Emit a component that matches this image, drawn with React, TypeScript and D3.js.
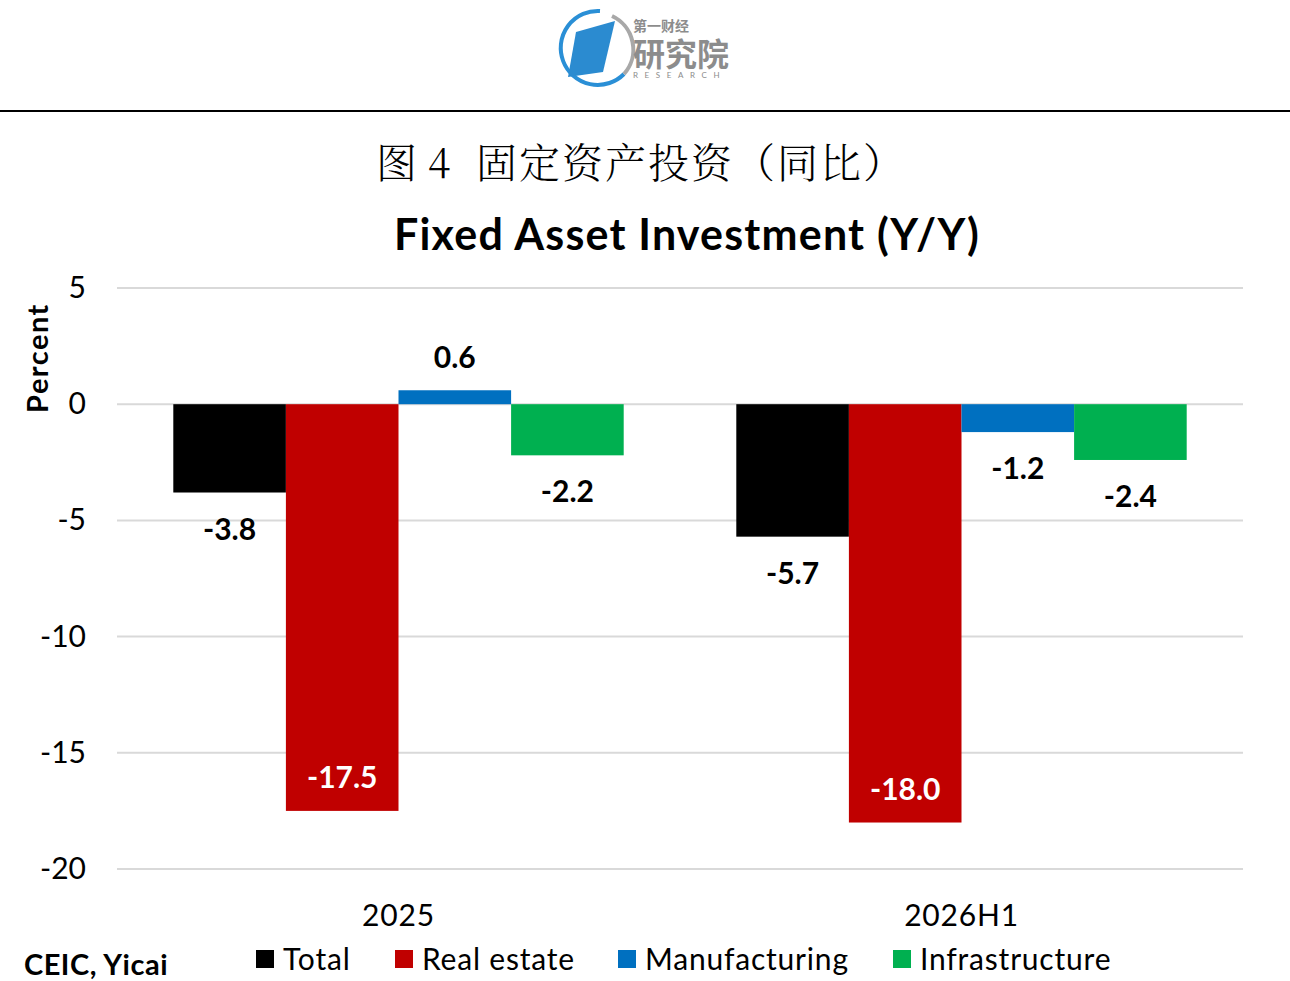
import * as d3 from "d3";

const categories = ["2025", "2026H1"];
const seriesNames = ["Total", "Real estate", "Manufacturing", "Infrastructure"];
const seriesColors = ["#000000", "#C00000", "#0070C0", "#00B050"];
const totalValues = [-3.8, -5.7];
const realEstateValues = [-17.5, -18.0];
const manufacturingValues = [0.6, -1.2];
const infrastructureValues = [-2.2, -2.4];
const yTicks = [5, 0, -5, -10, -15, -20];

const seriesValues = [totalValues, realEstateValues, manufacturingValues, infrastructureValues];
// real estate labels sit inside the bar end, in white
const insideLabel = [false, true, false, false];

const W = 1290;
const H = 981;
const FONT = "Lato, 'Open Sans', sans-serif";
const CJK_SERIF = "'Noto Serif CJK SC', 'Noto Sans CJK SC', serif";

export default function App() {
  const plot = { left: 117, right: 1243, top: 288, bottom: 869 };

  const y = d3.scaleLinear().domain([-20, 5]).range([plot.bottom, plot.top]);
  const x0 = d3.scaleBand().domain(categories).range([plot.left, plot.right]);
  const x1 = d3
    .scaleBand()
    .domain(seriesNames)
    .range([0, x0.bandwidth()])
    .paddingOuter(0.5)
    .paddingInner(0);

  const legendX = [256, 395, 618, 893];

  return (
    <svg
      width={W}
      height={H}
      style={{ position: "absolute", left: 0, top: 0, display: "block", background: "#fff" }}
    >
      <rect width={W} height={H} fill="#fff" />

      {/* logo */}
      <g>
        <path d="M 600 11 A 37 37 0 1 0 624 74" fill="none" stroke="#2a8fd6" strokeWidth={4} />
        <path d="M 624 74 A 37 37 0 0 0 612 16" fill="none" stroke="#a8a8a8" strokeWidth={4} />
        <path d="M 576 32 L 615 21 L 603 72 L 568 77 Z" fill="#2b8bd0" />
        <text x={633} y={31} fontFamily="'Noto Sans CJK SC'" fontSize={14} fill="#8c8c8c" fontWeight={700}>
          第一财经
        </text>
        <text x={633} y={66} fontFamily="'Noto Sans CJK SC'" fontSize={32} fill="#8c8c8c" fontWeight={700}>
          研究院
        </text>
        <text x={633} y={78} fontFamily="Lato" fontSize={8} fill="#8c8c8c" letterSpacing={6.6}>
          RESEARCH
        </text>
      </g>

      <line x1={0} x2={W} y1={111} y2={111} stroke="#000" strokeWidth={2} />

      <g fontFamily={CJK_SERIF} fontSize={41} fill="#000" fontWeight={300}>
        <text x={376} y={178}>图</text>
        <text x={428} y={178}>4</text>
        <text x={476} y={178} letterSpacing={2}>
          固定资产投资（同比）
        </text>
      </g>

      <text
        x={687}
        y={250}
        textAnchor="middle"
        fontFamily={FONT}
        fontWeight={700}
        fontSize={43}
        letterSpacing={1.2}
        fill="#000"
      >
        Fixed Asset Investment (Y/Y)
      </text>

      {/* gridlines */}
      {yTicks.map((t) => (
        <line
          key={t}
          x1={plot.left}
          x2={plot.right}
          y1={y(t)}
          y2={y(t)}
          stroke="#d9d9d9"
          strokeWidth={2}
        />
      ))}
      {yTicks.map((t) => (
        <text
          key={"l" + t}
          x={86}
          y={y(t) + 10}
          textAnchor="end"
          fontFamily={FONT}
          fontSize={30}
          fill="#000"
        >
          {t}
        </text>
      ))}
      <text
        transform={`translate(48,${358}) rotate(-90)`}
        textAnchor="middle"
        fontFamily={FONT}
        fontWeight={700}
        fontSize={29}
        letterSpacing={1.5}
        fill="#000"
      >
        Percent
      </text>

      {/* bars */}
      {categories.map((c, ci) => (
        <g key={c} transform={`translate(${x0(c)},0)`}>
          {seriesNames.map((s, si) => {
            const v = seriesValues[si][ci];
            const bx = x1(s)!;
            const top = Math.min(y(v), y(0));
            const h = Math.abs(y(v) - y(0));
            let ly: number;
            if (insideLabel[si]) ly = y(v) - 23;
            else if (v >= 0) ly = y(v) - 22;
            else ly = y(v) + 47;
            return (
              <g key={s}>
                <rect x={bx} y={top} width={x1.bandwidth()} height={h} fill={seriesColors[si]} />
                <text
                  x={bx + x1.bandwidth() / 2}
                  y={ly}
                  textAnchor="middle"
                  fontFamily={FONT}
                  fontWeight={700}
                  fontSize={30}
                  fill={insideLabel[si] ? "#fff" : "#000"}
                >
                  {v.toFixed(1)}
                </text>
              </g>
            );
          })}
        </g>
      ))}

      {categories.map((c) => (
        <text
          key={c}
          x={x0(c)! + x0.bandwidth() / 2}
          y={926}
          textAnchor="middle"
          fontFamily={FONT}
          fontSize={30}
          letterSpacing={0.8}
          fill="#000"
        >
          {c}
        </text>
      ))}

      {/* legend */}
      {seriesNames.map((s, i) => (
        <g key={s}>
          <rect x={legendX[i]} y={950} width={18} height={18} fill={seriesColors[i]} />
          <text
            x={legendX[i] + 27}
            y={970}
            fontFamily={FONT}
            fontSize={30}
            letterSpacing={0.8}
            fill="#000"
          >
            {s}
          </text>
        </g>
      ))}

      <text
        x={24}
        y={975}
        fontFamily={FONT}
        fontWeight={700}
        fontSize={29}
        letterSpacing={0.5}
        fill="#000"
      >
        CEIC, Yicai
      </text>
    </svg>
  );
}
